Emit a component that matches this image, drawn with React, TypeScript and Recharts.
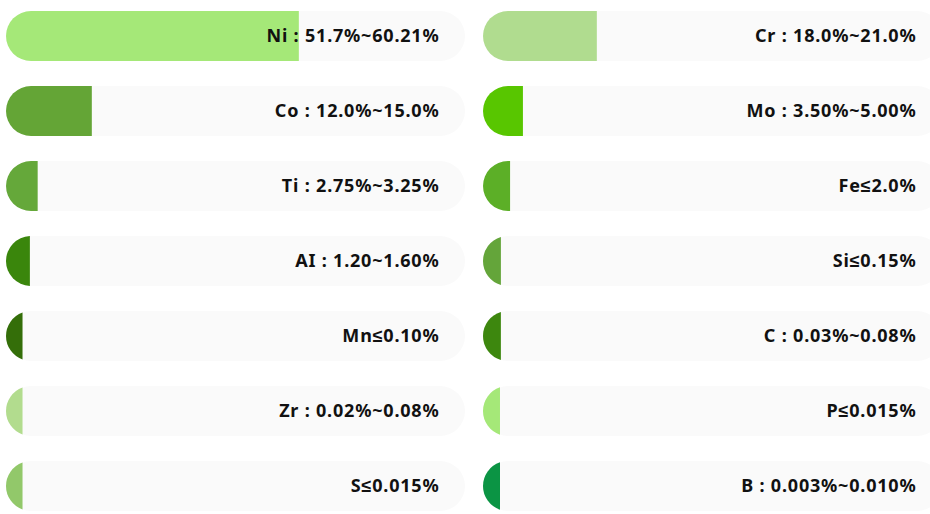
import React from 'react';
import { BarChart, Bar, XAxis, YAxis, LabelList } from 'recharts';

// element composition, two columns
const leftNames = ['Ni', 'Co', 'Ti', 'Al', 'Mn', 'Zr', 'S'];
const leftValues = [63.8, 18.7, 6.9, 5.2, 3.6, 3.6, 3.6];
const leftLabels = [
  'Ni : 51.7%~60.21%',
  'Co : 12.0%~15.0%',
  'Ti : 2.75%~3.25%',
  'AI : 1.20~1.60%',
  'Mn≤0.10%',
  'Zr : 0.02%~0.08%',
  'S≤0.015%',
];
const leftColors = ['#a5e878', '#64a536', '#65a83a', '#3a860c', '#346e09', '#b2dc8e', '#92c86a'];

const rightNames = ['Cr', 'Mo', 'Fe', 'Si', 'C', 'P', 'B'];
const rightValues = [24.8, 8.7, 5.9, 3.9, 3.9, 3.7, 3.7];
const rightLabels = [
  'Cr : 18.0%~21.0%',
  'Mo : 3.50%~5.00%',
  'Fe≤2.0%',
  'Si≤0.15%',
  'C : 0.03%~0.08%',
  'P≤0.015%',
  'B : 0.003%~0.010%',
];
const rightColors = ['#b0dc8f', '#58c600', '#5caf27', '#64a53a', '#3d870e', '#a5e878', '#0b9444'];

const W = 471;
const H = 525;
const M = 6;
const PLOT_RIGHT = W - M;

const Pill = (props: any) => {
  const { x, y, width, height, fill } = props;
  if (!width || width <= 0) return null;
  const r = height / 2;
  const cy = y + r;
  let d;
  if (width >= r) {
    d = `M${x + r},${y} H${x + width} V${y + height} H${x + r} A${r},${r} 0 0 1 ${x + r},${y} Z`;
  } else {
    const dx = r - width;
    const h = Math.sqrt(r * r - dx * dx);
    d = `M${x + width},${cy - h} A${r},${r} 0 0 0 ${x + width},${cy + h} Z`;
  }
  return <path d={d} fill={fill} />;
};

const Label = (props: any) => {
  const { y, height, value } = props;
  return (
    <text
      x={PLOT_RIGHT - 25.5}
      y={y + height / 2}
      dy="0.36em"
      textAnchor="end"
      fontSize={18}
      fontWeight="bold"
      letterSpacing={0.8}
      fontFamily="'Noto Sans', sans-serif"
      fill="#111"
    >
      {value}
    </text>
  );
};

function Column({ names, values, labels, colors }: any) {
  const data = names.map((n: string, i: number) => ({
    name: n,
    value: values[i],
    label: labels[i],
    fill: colors[i],
  }));
  return (
    <BarChart
      width={W}
      height={H}
      data={data}
      layout="vertical"
      margin={{ top: 0, right: M, bottom: 0, left: M }}
      barCategoryGap={25}
    >
      <XAxis type="number" domain={[0, 100]} hide />
      <YAxis type="category" dataKey="name" hide />
      <Bar
        dataKey="value"
        barSize={50}
        shape={Pill}
        background={{ fill: '#fafafa', radius: 25 } as any}
        isAnimationActive={false}
      >
        <LabelList dataKey="label" content={Label} />
      </Bar>
    </BarChart>
  );
}

export default function App() {
  return (
    <div
      style={{
        position: 'absolute',
        left: 0,
        top: 0,
        width: 930,
        height: 514,
        overflow: 'hidden',
        background: '#fff',
      }}
    >
      <div style={{ position: 'absolute', left: 0, top: -2.5 }}>
        <Column names={leftNames} values={leftValues} labels={leftLabels} colors={leftColors} />
      </div>
      <div style={{ position: 'absolute', left: 477, top: -2.5 }}>
        <Column names={rightNames} values={rightValues} labels={rightLabels} colors={rightColors} />
      </div>
    </div>
  );
}
